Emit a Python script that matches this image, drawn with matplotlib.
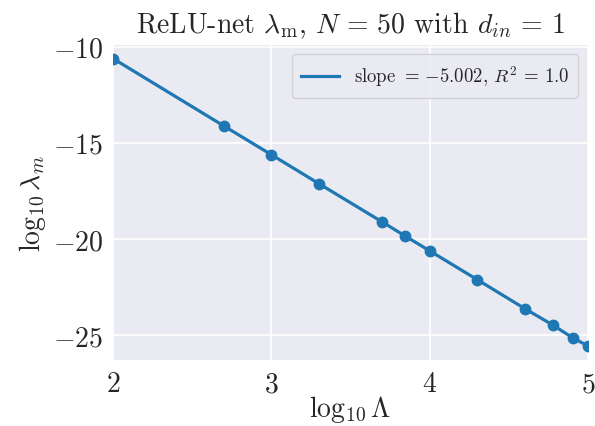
import matplotlib
matplotlib.use("Agg")
import matplotlib.pyplot as plt
import numpy as np

log_Lambda = [2.0, 2.699, 3.0, 3.301, 3.699, 3.845, 4.0, 4.301, 4.602, 4.778, 4.903, 5.0]
log_lambda_m = [-10.62, -14.12, -15.62, -17.13, -19.11, -19.85, -20.62, -22.12, -23.63, -24.48, -25.14, -25.57]
x_ticks = [2, 3, 4, 5]
y_ticks = [-25, -20, -15, -10]
legend_label = r"slope $=\,{-5.002}$, $R^2\,=\,1.0$"

plt.rcParams.update({
    "mathtext.fontset": "cm",
    "font.family": ["cmr10", "DejaVu Serif"],
    "axes.unicode_minus": True,
    "axes.formatter.use_mathtext": True,
    "axes.facecolor": "#EAEAF2",
    "axes.edgecolor": "white",
    "grid.color": "white",
    "text.color": ".15",
    "xtick.color": ".15",
    "ytick.color": ".15",
    "axes.labelcolor": ".15",
})

fig = plt.figure(figsize=(5.95, 4.27), dpi=100)
ax = fig.add_axes([0.190, 0.1546, 0.798, 0.7388])
ax.grid(True, color="white", linewidth=1.2)
ax.set_axisbelow(True)
for s in ax.spines.values():
    s.set_visible(False)

ax.plot(log_Lambda, log_lambda_m, color="#1f77b4", linewidth=2.3,
        label=legend_label)
ax.plot(log_Lambda, log_lambda_m, color="#1f77b4", linestyle="none",
        marker="o", markersize=7.5)

ax.set_xlim(2, 5)
ax.set_ylim(-26.3, -9.89)
ax.set_xticks(x_ticks)
ax.set_yticks(y_ticks)
ax.set_xticklabels([rf"${v}$" for v in x_ticks])
ax.set_yticklabels([rf"${v}$" for v in y_ticks])
ax.tick_params(axis="both", length=0, labelsize=20)
ax.tick_params(axis="x", pad=8)
ax.tick_params(axis="y", pad=7)

ax.set_xlabel(r"$\log_{10}\Lambda$", fontsize=20, labelpad=-3)
ax.set_ylabel(r"$\log_{10}\lambda_m$", fontsize=20, labelpad=4)
ax.set_title(r"ReLU-net $\lambda_{\mathrm{m}}$, $N\,=\,50$ with $d_{in}\,=\,1$", fontsize=20, pad=9)

leg = ax.legend(loc="upper right", fontsize=13.5, handlelength=2.0,
                frameon=True, fancybox=True, borderpad=0.5)
leg.get_frame().set_facecolor("#EAEAF2")
leg.get_frame().set_edgecolor("#cccccc")
leg.get_frame().set_alpha(0.8)
for t in leg.get_texts():
    t.set_color(".15")

fig.savefig("out.png", dpi=100)
